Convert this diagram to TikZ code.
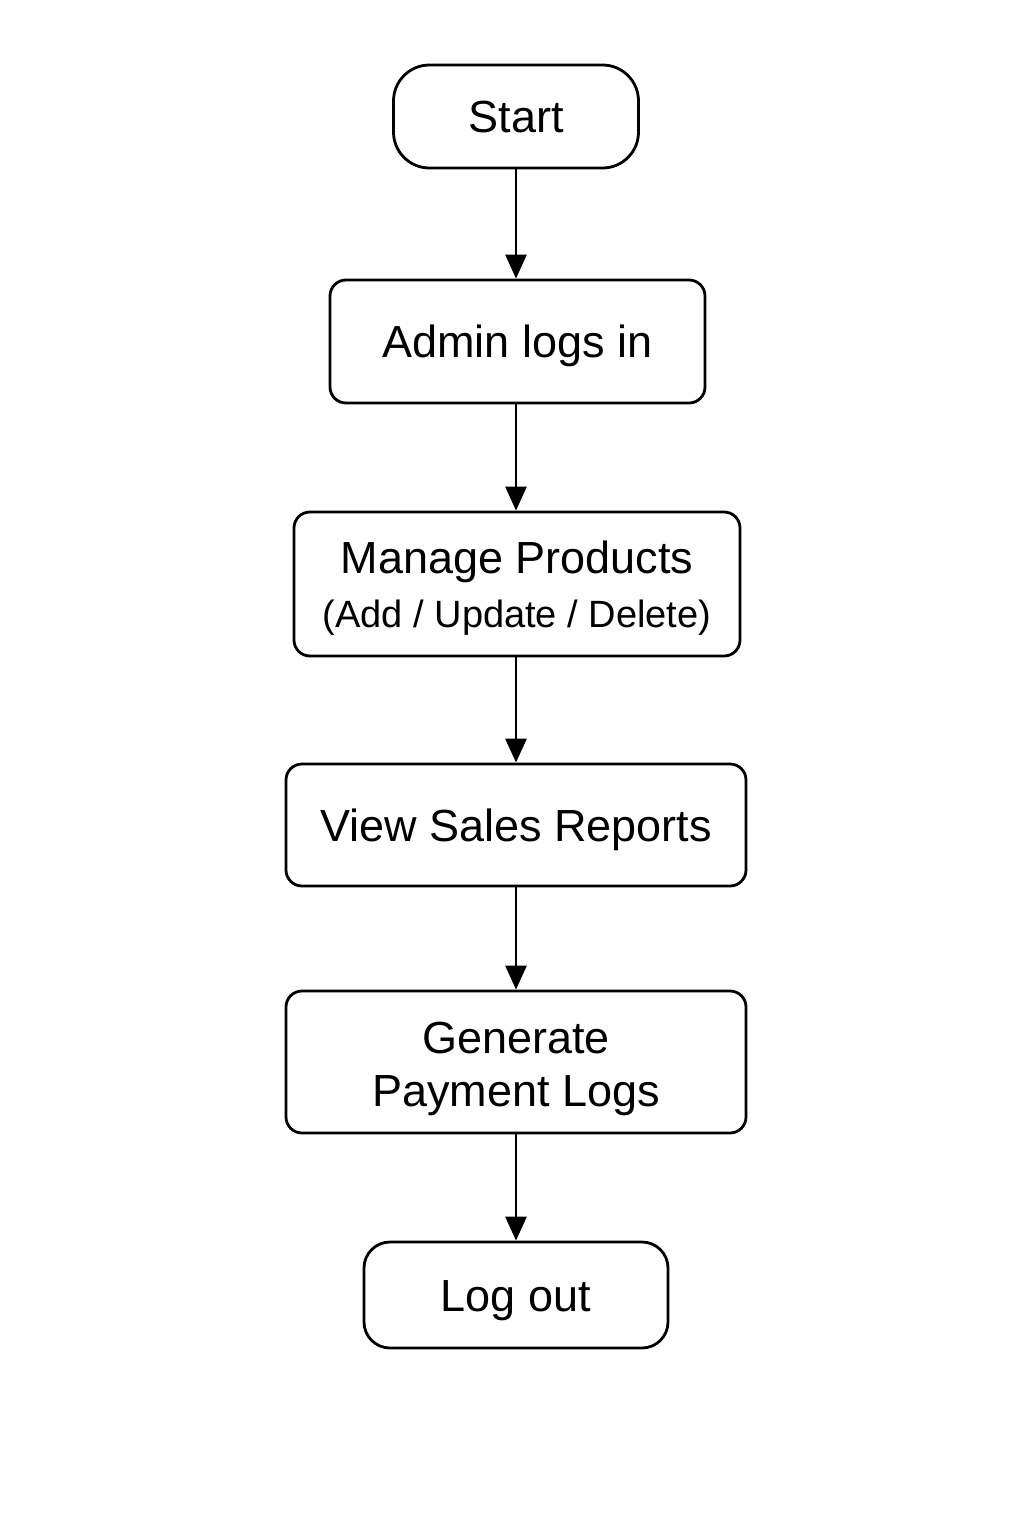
\documentclass[tikz,border=0pt]{standalone}
\usepackage{fontspec}
\setmainfont{Liberation Sans}
\usetikzlibrary{arrows.meta}
\begin{document}
\begin{tikzpicture}[x=1pt,y=-1pt,
  box/.style={draw,line width=2.8pt,rounded corners=16pt,inner sep=0pt,
    font=\fontsize{45}{53}\selectfont,align=center},
  conn/.style={line width=2.8pt,-{Triangle[length=24pt,width=21pt]}}]
\useasboundingbox (0,0) rectangle (1024,1536);
\node[box,rounded corners=36pt,minimum width=245pt,minimum height=103pt,text height=32pt,text depth=0pt] (start) at (516,116.5) {Start};
\node[box,minimum width=375pt,minimum height=123pt,text height=32pt,text depth=0pt] (login) at (517.5,341.5) {Admin logs in};
\node[box,minimum width=446pt,minimum height=144pt,text height=95.2pt,text depth=8pt] (manage) at (517,584) {Manage Products\\[1pt]{\fontsize{38}{40}\selectfont (Add / Update / Delete)}};
\node[box,minimum width=460pt,minimum height=122pt,text height=32pt,text depth=0pt] (view) at (516,825) {View Sales Reports};
\node[box,minimum width=460pt,minimum height=142pt,text height=98pt,text depth=10pt] (gen) at (516,1062) {Generate\\Payment Logs};
\node[box,rounded corners=26pt,minimum width=304pt,minimum height=106pt,text height=32pt,text depth=0pt] (logout) at (516,1295) {Log out};
\draw[conn] (start.south) -- (login.north -| start.south);
\draw[conn] (login.south -| start.south) -- (manage.north -| start.south);
\draw[conn] (manage.south -| start.south) -- (view.north -| start.south);
\draw[conn] (view.south -| start.south) -- (gen.north -| start.south);
\draw[conn] (gen.south -| start.south) -- (logout.north -| start.south);
\end{tikzpicture}
\end{document}
